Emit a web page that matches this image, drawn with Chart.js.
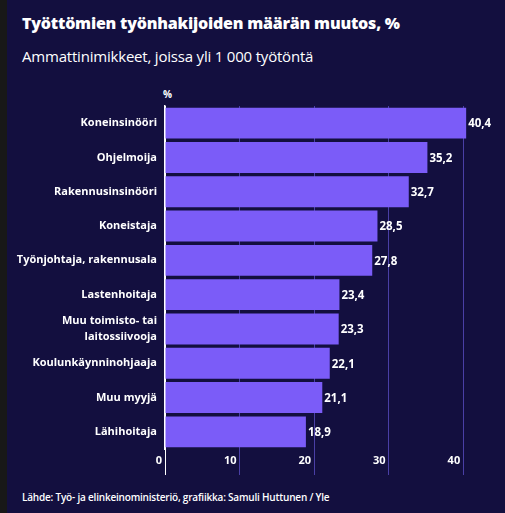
<!DOCTYPE html>
<html lang="fi">
<head>
<meta charset="utf-8">
<script src="https://cdn.jsdelivr.net/npm/chart.js@4/dist/chart.umd.min.js"></script>
<style>
  html, body { margin: 0; padding: 0; }
  body {
    width: 505px; height: 513px; overflow: hidden; position: relative;
    background: #130f3f; font-family: "Open Sans", sans-serif; color: #fff;
  }
  .strip { position: absolute; left: 0; top: 0; width: 7px; height: 513px; background: #181818; }
  h1 { position: absolute; left: 22px; top: 12px; margin: 0; font-size: 16px; font-weight: 800; letter-spacing: -0.2px; }
  .sub { position: absolute; left: 22px; top: 46px; margin: 0; font-size: 15px; font-weight: 400; letter-spacing: -0.2px; }
  .unit { position: absolute; left: 163px; top: 87px; font-size: 10px; font-weight: 700; }
  .src { position: absolute; left: 22px; top: 490px; font-size: 10px; font-weight: 600; letter-spacing: -0.2px; }
  #wrap { position: absolute; left: 7px; top: 85px; width: 498px; height: 394px; }
</style>
</head>
<body>
<div class="strip"></div>
<h1>Työttömien työnhakijoiden määrän muutos, %</h1>
<p class="sub">Ammattinimikkeet, joissa yli 1 000 työtöntä</p>
<div class="unit">%</div>
<div id="wrap"><canvas id="chart"></canvas></div>
<div class="src">Lähde: Työ- ja elinkeinoministeriö, grafiikka: Samuli Huttunen / Yle</div>

<script>
// Chart data
const categories = [
  'Koneinsinööri',
  'Ohjelmoija',
  'Rakennusinsinööri',
  'Koneistaja',
  'Työnjohtaja, rakennusala',
  'Lastenhoitaja',
  ['Muu toimisto- tai', 'laitossiivooja'],
  'Koulunkäynninohjaaja',
  'Muu myyjä',
  'Lähihoitaja'
];
const changePct = [40.4, 35.2, 32.7, 28.5, 27.8, 23.4, 23.3, 22.1, 21.1, 18.9];
const xTicks = [0, 10, 20, 30, 40];

const BAR_COLOR = '#7b5cf8';
const GRID_COLOR = '#4a3fa6';
const FONT = '"Open Sans", sans-serif';

const isTick = v => xTicks.includes(v);

// value labels to the right of each bar, Finnish decimal comma
const valueLabels = {
  id: 'valueLabels',
  afterDatasetsDraw(chart) {
    const ctx = chart.ctx;
    const meta = chart.getDatasetMeta(0);
    ctx.save();
    ctx.fillStyle = '#ffffff';
    ctx.font = '700 11.5px ' + FONT;
    ctx.textAlign = 'left';
    ctx.textBaseline = 'middle';
    meta.data.forEach((bar, i) => {
      const txt = changePct[i].toFixed(1).replace('.', ',');
      ctx.fillText(txt, bar.x + 2, bar.y + 1);
    });
    ctx.restore();
  }
};

new Chart(document.getElementById('chart'), {
  type: 'bar',
  data: {
    labels: categories,
    datasets: [{
      data: changePct,
      backgroundColor: BAR_COLOR,
      borderWidth: 0,
      barPercentage: 0.9,
      categoryPercentage: 1
    }]
  },
  options: {
    indexAxis: 'y',
    responsive: true,
    maintainAspectRatio: false,
    animation: false,
    layout: { padding: { top: 21, right: 12, left: 0, bottom: 0 } },
    plugins: {
      legend: { display: false },
      tooltip: { enabled: false }
    },
    scales: {
      x: {
        min: 0,
        max: 44,
        afterFit: s => { s.height = 30; },
        grid: {
          color: ctx => {
            if (!ctx.tick || !isTick(ctx.tick.value)) return 'rgba(0,0,0,0)';
            return ctx.tick.value === 0 ? '#ffffff' : GRID_COLOR;
          },
          lineWidth: 1,
          drawTicks: true,
          tickLength: 26
        },
        border: { display: false },
        ticks: {
          stepSize: 10,
          callback: v => isTick(v) ? v : '',
          color: '#ffffff',
          font: { family: FONT, size: 11, weight: '700' },
          align: 'end',
          labelOffset: -3,
          padding: -21,
          maxRotation: 0
        }
      },
      y: {
        afterFit: s => { s.width = 158; },
        grid: { display: false, drawTicks: false },
        border: { display: true, color: '#ffffff', width: 1.5 },
        ticks: {
          autoSkip: false,
          color: '#ffffff',
          font: { family: FONT, size: 11, weight: '700', lineHeight: 1.5 },
          padding: 8
        }
      }
    }
  },
  plugins: [valueLabels]
});
</script>
</body>
</html>
